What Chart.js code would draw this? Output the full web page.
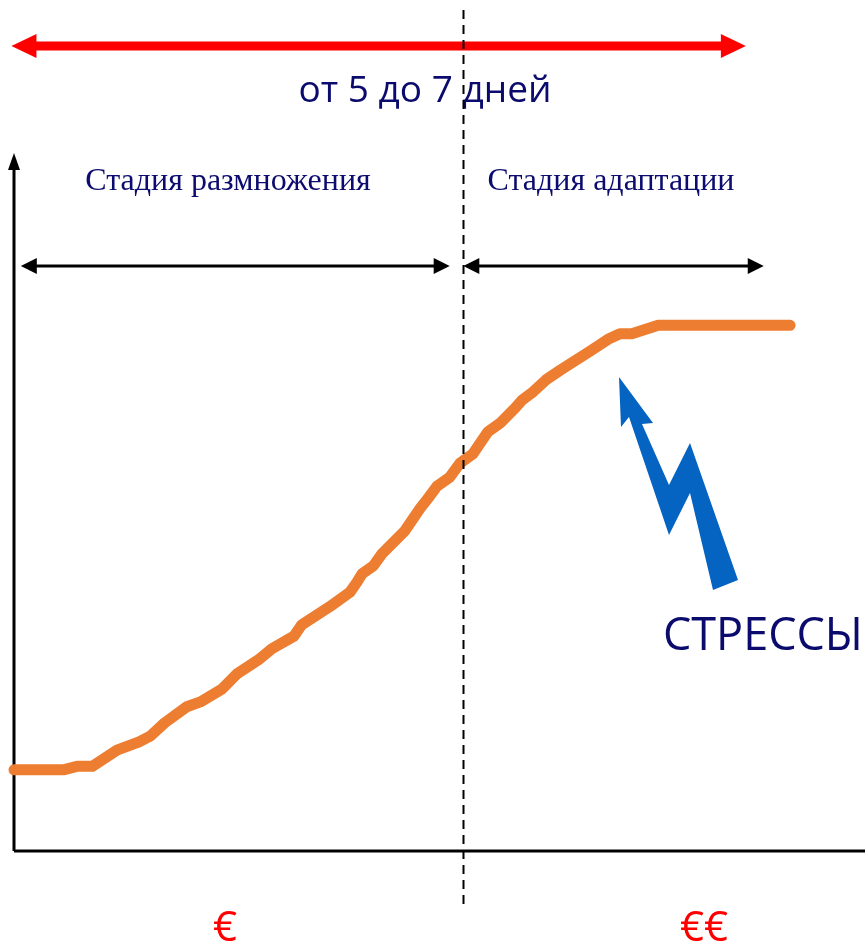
<!DOCTYPE html>
<html lang="ru">
<head>
<meta charset="utf-8">
<title>Стадии роста</title>
<script src="https://cdn.jsdelivr.net/npm/chart.js@4.4.1/dist/chart.umd.min.js"></script>
<style>
  html, body { margin: 0; padding: 0; background: #fff; }
  #wrap { width: 865px; height: 947px; position: relative; }
</style>
</head>
<body>
<div id="wrap"><canvas id="growthChart"></canvas></div>
<script>
// growth curve, both axes in relative units 0..100
const timeValues = [0, 5.8, 7.4, 9.2, 12.1, 14.7, 16.0, 17.7, 20.3, 21.9,
  24.4, 26.2, 28.7, 30.3, 32.9, 33.8, 37.1, 39.5, 40.3, 40.9,
  42.2, 43.2, 45.9, 47.7, 48.6, 49.7, 51.2, 52.4, 53.9, 55.7,
  57.1, 58.9, 59.7, 61.0, 62.5, 64.2, 67.7, 69.8, 71.2, 72.6,
  75.7, 91.2];
const growthValues = [11.6, 11.6, 12.1, 12.1, 14.4, 15.6, 16.4, 18.3, 20.6, 21.3,
  23.1, 25.3, 27.3, 28.9, 30.7, 32.3, 34.9, 37.0, 38.4, 39.6,
  40.7, 42.4, 45.7, 48.9, 50.3, 52.1, 53.4, 55.4, 56.7, 59.9,
  61.1, 63.3, 64.4, 65.6, 67.3, 68.7, 71.4, 73.1, 73.9, 73.9,
  75.1, 75.1];

// stage boundary and stage spans on the time axis
const stageBorder = 52.8;
const reproductionStage = [0.8, 51.2];
const adaptationStage = [52.8, 88.1];
const totalSpan = [-0.3, 86.0];

const stageLabels = ['Стадия размножения', 'Стадия адаптации'];
const durationLabel = 'от 5 до 7 дней';
const stressLabel = 'СТРЕССЫ';
const costLabels = ['€', '€€'];

const points = timeValues.map((t, i) => ({ x: t, y: growthValues[i] }));

function arrowHead(ctx, x, y, dir, len, half) {
  ctx.beginPath();
  ctx.moveTo(x, y);
  ctx.lineTo(x - dir * len, y - half);
  ctx.lineTo(x - dir * len, y + half);
  ctx.closePath();
  ctx.fill();
}

function doubleArrow(ctx, x1, x2, y, width, len, half, color) {
  ctx.save();
  ctx.strokeStyle = color;
  ctx.fillStyle = color;
  ctx.lineWidth = width;
  ctx.beginPath();
  ctx.moveTo(x1 + len - 1, y);
  ctx.lineTo(x2 - len + 1, y);
  ctx.stroke();
  arrowHead(ctx, x1, y, -1, len, half);
  arrowHead(ctx, x2, y, 1, len, half);
  ctx.restore();
}

const decorPlugin = {
  id: 'decor',
  beforeDatasetsDraw(chart) {
    const { ctx, chartArea: a, scales: { x } } = chart;
    ctx.save();
    // axes
    ctx.strokeStyle = '#000';
    ctx.fillStyle = '#000';
    ctx.lineWidth = 3;
    ctx.beginPath();
    ctx.moveTo(a.left, a.bottom);
    ctx.lineTo(a.left, a.top + 14);
    ctx.moveTo(a.left, a.bottom);
    ctx.lineTo(a.right, a.bottom);
    ctx.stroke();
    ctx.beginPath();
    ctx.moveTo(a.left, a.top + 2);
    ctx.lineTo(a.left - 6, a.top + 19);
    ctx.lineTo(a.left + 6, a.top + 19);
    ctx.closePath();
    ctx.fill();

    // stage spans
    doubleArrow(ctx, x.getPixelForValue(reproductionStage[0]), x.getPixelForValue(reproductionStage[1]),
      266, 3, 16, 8, '#000');
    doubleArrow(ctx, x.getPixelForValue(adaptationStage[0]), x.getPixelForValue(adaptationStage[1]),
      266, 3, 16, 8, '#000');
    // overall duration
    doubleArrow(ctx, x.getPixelForValue(totalSpan[0]), x.getPixelForValue(totalSpan[1]),
      46, 9, 25, 12, '#FF0000');

    ctx.textAlign = 'center';
    ctx.textBaseline = 'middle';
    ctx.fillStyle = '#0B0B6E';
    ctx.font = '37px "Open Sans", sans-serif';
    ctx.fillText(durationLabel, 425, 91);

    ctx.fillStyle = '#0C0C70';
    ctx.font = '32px "Liberation Serif", "Times New Roman", serif';
    ctx.fillText(stageLabels[0], 228, 182);
    ctx.fillText(stageLabels[1], 611, 182);

    ctx.fillStyle = '#0B0B6E';
    ctx.font = '45px "Open Sans", sans-serif';
    ctx.fillText(stressLabel, 763, 637);

    ctx.fillStyle = '#FF0000';
    ctx.font = '42px "Open Sans", sans-serif';
    ctx.fillText(costLabels[0], 225, 929);
    ctx.fillText(costLabels[1], 704, 929);

    // stress bolt
    ctx.fillStyle = '#0563C1';
    ctx.beginPath();
    [[619, 377], [653, 423], [642, 424], [669, 485], [690, 443], [738, 580],
     [713, 590], [690, 493], [669, 535], [629, 417], [621, 427]].forEach(([px, py], i) => {
      if (i === 0) ctx.moveTo(px, py); else ctx.lineTo(px, py);
    });
    ctx.closePath();
    ctx.fill();
    ctx.restore();
  },
  afterDatasetsDraw(chart) {
    const { ctx, scales: { x } } = chart;
    const bx = Math.round(x.getPixelForValue(stageBorder)) + 0.5;
    ctx.save();
    ctx.strokeStyle = '#000';
    ctx.lineWidth = 2;
    ctx.setLineDash([9, 6]);
    ctx.beginPath();
    ctx.moveTo(bx, 10);
    ctx.lineTo(bx, 906);
    ctx.stroke();
    ctx.restore();
  }
};

new Chart(document.getElementById('growthChart'), {
  type: 'line',
  data: {
    datasets: [{
      data: points,
      borderColor: '#ED7D31',
      borderWidth: 11,
      borderCapStyle: 'round',
      borderJoinStyle: 'round',
      pointRadius: 0,
      tension: 0,
      fill: false,
      clip: false
    }]
  },
  options: {
    responsive: true,
    maintainAspectRatio: false,
    animation: false,
    layout: { padding: { left: 14, right: 0, top: 151, bottom: 96 } },
    plugins: {
      legend: { display: false },
      tooltip: { enabled: false }
    },
    scales: {
      x: { type: 'linear', min: 0, max: 100, display: false },
      y: { type: 'linear', min: 0, max: 100, display: false }
    }
  },
  plugins: [decorPlugin]
});
</script>
</body>
</html>
